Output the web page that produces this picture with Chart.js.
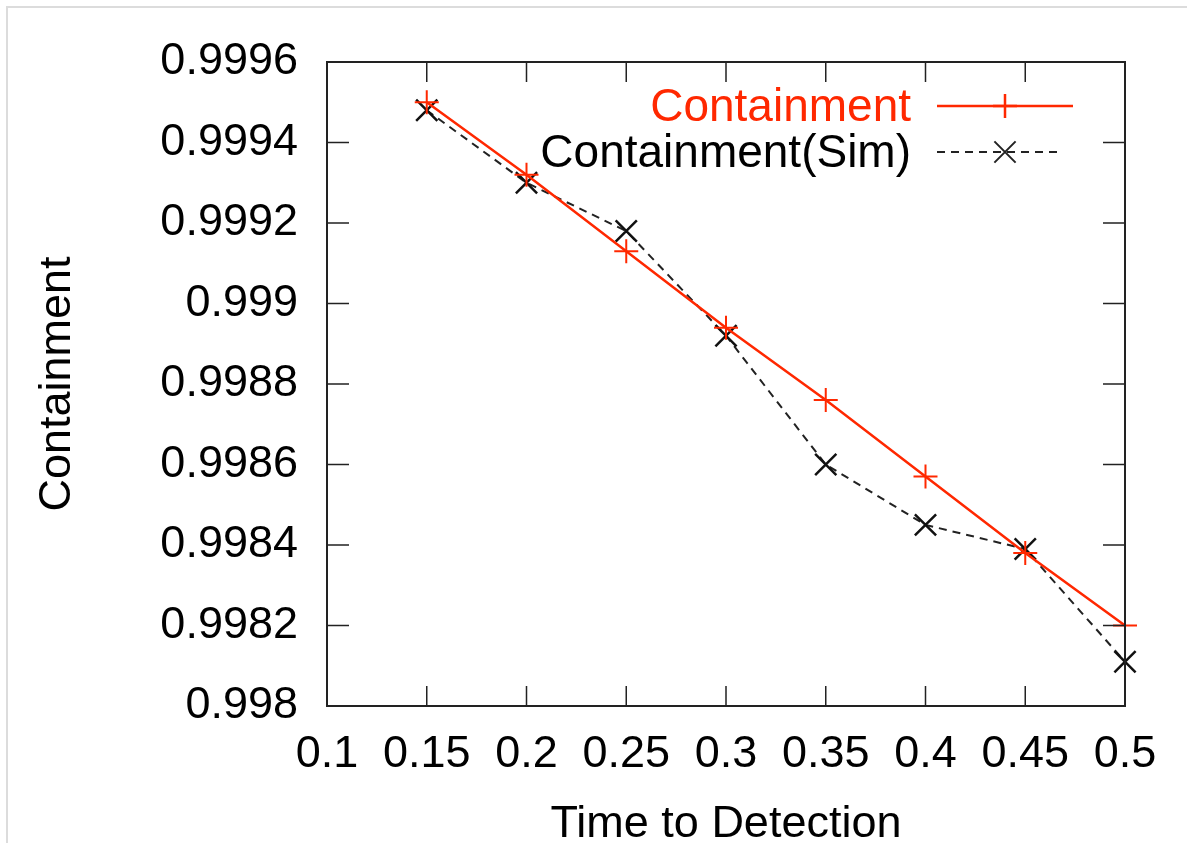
<!DOCTYPE html>
<html lang="en">
<head>
    <meta charset="UTF-8">
    <title>Containment vs Time to Detection</title>
    <script src="https://cdn.jsdelivr.net/npm/chart.js"></script>
    <style>
        html, body { margin: 0; padding: 0; background: #fff; }
        .frame {
            position: absolute; left: 6px; top: 6px; right: 0; bottom: 0;
            border-top: 2px solid #dcdcdc; border-left: 2px solid #dcdcdc;
        }
        .chart-container { position: absolute; left: 0; top: 0; width: 1187px; height: 843px; }
    </style>
</head>
<body>
    <div class="frame"></div>
    <div class="chart-container">
        <canvas id="lineChart" width="1187" height="843"></canvas>
    </div>

    <script>
        // Data
        const detectionTimes = [0.15, 0.2, 0.25, 0.3, 0.35, 0.4, 0.45, 0.5];
        const containment = [0.99950, 0.99932, 0.99913, 0.99894, 0.99876, 0.99857, 0.99838, 0.99820];
        const containmentSim = [0.99948, 0.99930, 0.99918, 0.99892, 0.99860, 0.99845, 0.99839, 0.99811];
        const seriesLabels = ['Containment', 'Containment(Sim)'];
        const xTickRange = [0.1, 0.5, 0.05];
        const yTickRange = [0.998, 0.9996, 0.0002];

        const RED = 'rgb(255,40,0)';
        const FONT = 'Liberation Sans, Arial, sans-serif';

        // gnuplot style frame with inward ticks on all four sides, plus the key
        const framePlugin = {
            id: 'frame',
            afterDatasetsDraw(chart) {
                const {ctx, chartArea: a, scales} = chart;
                ctx.save();
                ctx.strokeStyle = '#222';
                ctx.lineWidth = 2;
                ctx.strokeRect(a.left, a.top, a.right - a.left, a.bottom - a.top);
                ctx.lineWidth = 1.5;
                ctx.beginPath();
                scales.x.ticks.forEach(t => {
                    const px = scales.x.getPixelForValue(t.value);
                    if (px <= a.left + 1 || px >= a.right - 1) return;
                    ctx.moveTo(px, a.bottom); ctx.lineTo(px, a.bottom - 20);
                    ctx.moveTo(px, a.top); ctx.lineTo(px, a.top + 20);
                });
                scales.y.ticks.forEach(t => {
                    const py = scales.y.getPixelForValue(t.value);
                    if (py <= a.top + 1 || py >= a.bottom - 1) return;
                    ctx.moveTo(a.left, py); ctx.lineTo(a.left + 22, py);
                    ctx.moveTo(a.right, py); ctx.lineTo(a.right - 22, py);
                });
                ctx.stroke();

                // key
                ctx.font = '46px ' + FONT;
                ctx.textAlign = 'right';
                ctx.textBaseline = 'middle';
                chart.data.datasets.forEach((ds, i) => {
                    const y = 106 + i * 46;
                    ctx.fillStyle = i === 0 ? RED : '#000';
                    ctx.fillText(ds.label, 911, y + 2);
                    ctx.save();
                    ctx.strokeStyle = ds.borderColor;
                    ctx.lineWidth = ds.borderWidth;
                    ctx.setLineDash(ds.borderDash || []);
                    ctx.beginPath();
                    ctx.moveTo(937, y);
                    ctx.lineTo(i === 0 ? 1073 : 1062, y);
                    ctx.stroke();
                    ctx.setLineDash([]);
                    Chart.helpers.drawPoint(ctx, {
                        pointStyle: ds.pointStyle,
                        radius: ds.pointRadius,
                        borderWidth: ds.pointBorderWidth
                    }, 1005, y);
                    ctx.restore();
                });
                ctx.restore();
            }
        };

        const fmt = (v, d) => String(parseFloat(v.toFixed(d)));

        new Chart(document.getElementById('lineChart'), {
            type: 'line',
            data: {
                datasets: [{
                    label: seriesLabels[0],
                    data: detectionTimes.map((x, i) => ({x: x, y: containment[i]})),
                    borderColor: RED,
                    backgroundColor: RED,
                    borderWidth: 2.5,
                    pointStyle: 'cross',
                    pointRadius: 12,
                    pointBorderWidth: 2,
                    pointBorderColor: RED,
                    clip: false
                }, {
                    label: seriesLabels[1],
                    data: detectionTimes.map((x, i) => ({x: x, y: containmentSim[i]})),
                    borderColor: '#222',
                    backgroundColor: '#222',
                    borderWidth: 2,
                    borderDash: [8, 6],
                    pointStyle: 'crossRot',
                    pointRadius: 15,
                    pointBorderWidth: 2.5,
                    pointBorderColor: '#111',
                    clip: false
                }]
            },
            options: {
                responsive: false,
                animation: false,
                layout: { padding: { left: 0, top: 62, right: 62, bottom: 0 } },
                plugins: { legend: { display: false }, tooltip: { enabled: false } },
                scales: {
                    x: {
                        type: 'linear',
                        min: xTickRange[0],
                        max: xTickRange[1],
                        grid: { display: false, drawTicks: false },
                        border: { display: false },
                        ticks: {
                            stepSize: xTickRange[2],
                            padding: 22,
                            color: '#000',
                            font: { family: FONT, size: 45 },
                            maxRotation: 0,
                            autoSkip: false,
                            callback: v => fmt(v, 2)
                        },
                        title: {
                            display: true,
                            text: 'Time to Detection',
                            color: '#000',
                            font: { family: FONT, size: 45, lineHeight: 0.8 },
                            padding: { top: 0, bottom: 0 }
                        },
                        afterFit: s => { s.height = 137; }
                    },
                    y: {
                        min: yTickRange[0],
                        max: yTickRange[1],
                        grid: { display: false, drawTicks: false },
                        border: { display: false },
                        ticks: {
                            stepSize: yTickRange[2],
                            padding: 29,
                            color: '#000',
                            font: { family: FONT, size: 45 },
                            autoSkip: false,
                            callback: v => fmt(v, 4)
                        },
                        title: {
                            display: true,
                            text: 'Containment',
                            color: '#000',
                            font: { family: FONT, size: 45, lineHeight: 1.2 },
                            padding: { top: 31, bottom: 0 }
                        },
                        afterFit: s => { s.width = 327; }
                    }
                }
            },
            plugins: [framePlugin]
        });
    </script>
</body>
</html>
